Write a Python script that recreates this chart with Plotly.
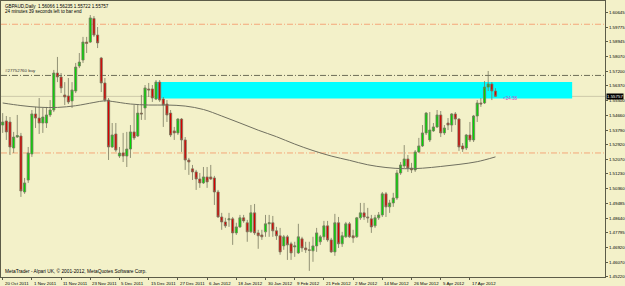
import plotly.graph_objects as go

# ---------------- data ----------------
opens = [1.5408, 1.5432, 1.5426, 1.5274, 1.5338, 1.5344, 1.5017, 1.5087, 1.5239, 1.5473,
         1.5449, 1.5420, 1.5420, 1.5467, 1.5496, 1.5712, 1.5689, 1.5584, 1.5578, 1.5549,
         1.5607, 1.5753, 1.5788, 1.5893, 1.5893, 1.6031, 1.5934, 1.5800, 1.5654, 1.5554,
         1.5280, 1.5356, 1.5227, 1.5245, 1.5227, 1.5268, 1.5368, 1.5344, 1.5478, 1.5508,
         1.5619, 1.5619, 1.5560, 1.5659, 1.5560, 1.5531, 1.5478, 1.5374, 1.5362, 1.5443,
         1.5321, 1.5204, 1.5152, 1.5134, 1.5093, 1.5070, 1.5105, 1.5105, 1.5099, 1.5017,
         1.4871, 1.4842, 1.4854, 1.4860, 1.4778, 1.4813, 1.4866, 1.4837, 1.4784, 1.4895,
         1.4778, 1.4766, 1.4784, 1.4831, 1.4837, 1.4790, 1.4761, 1.4702, 1.4755, 1.4714,
         1.4696, 1.4661, 1.4743, 1.4690, 1.4679, 1.4673, 1.4702, 1.4726, 1.4755, 1.4819,
         1.4737, 1.4667, 1.4837, 1.4714, 1.4755, 1.4831, 1.4761, 1.4755, 1.4866, 1.4895,
         1.4871, 1.4860, 1.4819, 1.4866, 1.4883, 1.5006, 1.4930, 1.4953, 1.4982, 1.5128,
         1.5169, 1.5210, 1.5157, 1.5146, 1.5251, 1.5286, 1.5362, 1.5321, 1.5374, 1.5397,
         1.5467, 1.5362, 1.5420, 1.5408, 1.5473, 1.5443, 1.5286, 1.5274, 1.5350, 1.5321,
         1.5461, 1.5537, 1.5537, 1.5630, 1.5648, 1.56066]
highs = [1.5478, 1.5461, 1.5455, 1.5368, 1.5467, 1.5362, 1.5099, 1.5280, 1.5496, 1.5514,
         1.5566, 1.5508, 1.5514, 1.5554, 1.5730, 1.5806, 1.5712, 1.5659, 1.5683, 1.5659,
         1.5771, 1.5829, 1.5923, 1.5923, 1.6051, 1.6045, 1.5981, 1.5806, 1.5683, 1.5566,
         1.5420, 1.5420, 1.5280, 1.5362, 1.5368, 1.5408, 1.5525, 1.5525, 1.5584, 1.5642,
         1.5654, 1.5642, 1.5671, 1.5671, 1.5572, 1.5554, 1.5496, 1.5397, 1.5449, 1.5449,
         1.5338, 1.5216, 1.5175, 1.5146, 1.5128, 1.5163, 1.5163, 1.5175, 1.5111, 1.5029,
         1.4895, 1.4866, 1.4895, 1.4871, 1.4837, 1.4883, 1.4883, 1.4854, 1.4941, 1.4947,
         1.4796, 1.4796, 1.4883, 1.4883, 1.4877, 1.4813, 1.4807, 1.4766, 1.4766, 1.4726,
         1.4726, 1.4831, 1.4755, 1.4726, 1.4726, 1.4755, 1.4807, 1.4766, 1.4848, 1.4848,
         1.4749, 1.4889, 1.4871, 1.4784, 1.4842, 1.4842, 1.4796, 1.4871, 1.4953, 1.4953,
         1.4924, 1.4883, 1.4883, 1.4900, 1.5017, 1.5017, 1.4971, 1.5012, 1.5146, 1.5192,
         1.5291, 1.5233, 1.5187, 1.5262, 1.5333, 1.5408, 1.5484, 1.5484, 1.5420, 1.5496,
         1.5490, 1.5408, 1.5449, 1.5478, 1.5484, 1.5449, 1.5303, 1.5356, 1.5426, 1.5467,
         1.5554, 1.5566, 1.5665, 1.5724, 1.5659, 1.56235]
lows = [1.5362, 1.5321, 1.5233, 1.5245, 1.5333, 1.4988, 1.5006, 1.5070, 1.5222, 1.5391,
        1.5356, 1.5362, 1.5391, 1.5455, 1.5484, 1.5659, 1.5595, 1.5525, 1.5531, 1.5508,
        1.5595, 1.5741, 1.5771, 1.5829, 1.5888, 1.5923, 1.5858, 1.5601, 1.5543, 1.5204,
        1.5274, 1.5251, 1.5216, 1.5192, 1.5163, 1.5216, 1.5321, 1.5338, 1.5438, 1.5438,
        1.5572, 1.5543, 1.5554, 1.5543, 1.5397, 1.5426, 1.5338, 1.5321, 1.5350, 1.5251,
        1.5146, 1.5117, 1.5087, 1.5029, 1.5041, 1.5064, 1.5041, 1.5087, 1.4941, 1.4866,
        1.4796, 1.4807, 1.4813, 1.4708, 1.4766, 1.4807, 1.4837, 1.4726, 1.4778, 1.4766,
        1.4685, 1.4737, 1.4755, 1.4755, 1.4755, 1.4737, 1.4650, 1.4679, 1.4620, 1.4620,
        1.4638, 1.4655, 1.4667, 1.4661, 1.4556, 1.4609, 1.4667, 1.4708, 1.4737, 1.4726,
        1.4661, 1.4644, 1.4690, 1.4696, 1.4749, 1.4749, 1.4720, 1.4749, 1.4854, 1.4854,
        1.4837, 1.4778, 1.4807, 1.4854, 1.4871, 1.4871, 1.4895, 1.4930, 1.4971, 1.5117,
        1.5157, 1.5134, 1.5128, 1.5134, 1.5245, 1.5280, 1.5350, 1.5309, 1.5368, 1.5391,
        1.5338, 1.5350, 1.5379, 1.5368, 1.5408, 1.5257, 1.5251, 1.5262, 1.5309, 1.5309,
        1.5426, 1.5514, 1.5531, 1.5607, 1.5554, 1.55722]
closes = [1.5426, 1.5368, 1.5280, 1.5338, 1.5347, 1.5023, 1.5070, 1.5245, 1.5473, 1.5449,
          1.5420, 1.5455, 1.5467, 1.5496, 1.5712, 1.5689, 1.5625, 1.5572, 1.5543, 1.5613,
          1.5747, 1.5776, 1.5893, 1.5885, 1.6034, 1.5934, 1.5888, 1.5654, 1.5554, 1.5280,
          1.5350, 1.5262, 1.5245, 1.5227, 1.5268, 1.5368, 1.5333, 1.5478, 1.5473, 1.5625,
          1.5613, 1.5566, 1.5659, 1.5554, 1.5525, 1.5467, 1.5350, 1.5362, 1.5443, 1.5321,
          1.5204, 1.5192, 1.5134, 1.5093, 1.5070, 1.5105, 1.5076, 1.5093, 1.5017, 1.4871,
          1.4842, 1.4819, 1.4860, 1.4778, 1.4813, 1.4866, 1.4848, 1.4784, 1.4895, 1.4778,
          1.4761, 1.4755, 1.4831, 1.4837, 1.4790, 1.4761, 1.4667, 1.4755, 1.4708, 1.4661,
          1.4702, 1.4755, 1.4690, 1.4679, 1.4676, 1.4702, 1.4778, 1.4755, 1.4819, 1.4737,
          1.4667, 1.4837, 1.4714, 1.4761, 1.4831, 1.4755, 1.4749, 1.4866, 1.4895, 1.4871,
          1.4866, 1.4813, 1.4866, 1.4883, 1.5006, 1.4930, 1.4953, 1.4982, 1.5128, 1.5175,
          1.5210, 1.5157, 1.5146, 1.5251, 1.5286, 1.5362, 1.5478, 1.5379, 1.5397, 1.5467,
          1.5362, 1.5391, 1.5408, 1.5473, 1.5443, 1.5280, 1.5268, 1.5350, 1.5321, 1.5461,
          1.5537, 1.5531, 1.5630, 1.5648, 1.5607, 1.55757]

ma_bars = [0, 5, 10, 15, 20, 25, 28, 30, 35, 40, 45, 50, 55, 60, 65, 70, 75, 80,
           85, 90, 95, 100, 105, 110, 115, 120, 125, 130, 135]
ma_vals = [1.5537, 1.5522, 1.5512, 1.5511, 1.5521, 1.5540, 1.5550, 1.5546, 1.5531,
           1.5525, 1.5525, 1.5519, 1.5499, 1.5461, 1.5420, 1.5378, 1.5340, 1.5297,
           1.5259, 1.5227, 1.5202, 1.5176, 1.5160, 1.5153, 1.5156, 1.5166, 1.5178,
           1.5194, 1.5222]

date_bars = [0, 8, 16, 24, 32, 40, 48, 56, 64, 72, 80, 88, 96, 104, 112, 120, 128]
date_labels = ["20 Oct 2011", "1 Nov 2011", "11 Nov 2011", "23 Nov 2011", "5 Dec 2011",
               "15 Dec 2011", "27 Dec 2011", "6 Jan 2012", "18 Jan 2012", "30 Jan 2012",
               "9 Feb 2012", "21 Feb 2012", "2 Mar 2012", "14 Mar 2012", "26 Mar 2012",
               "5 Apr 2012", "17 Apr 2012"]

price_ticks = [1.60645, 1.59775, 1.58945, 1.58070, 1.57200, 1.56370, 1.55500, 1.54660,
               1.53790, 1.52920, 1.52070, 1.51230, 1.50360, 1.49485, 1.48640, 1.47795,
               1.46920, 1.46070, 1.45220]
price_tick_text = ["%.5f" % v for v in price_ticks]

bid = 1.55757
level_top = 1.5997
level_order = 1.5698
level_bottom = 1.5245
zone_low, zone_high = 1.5563, 1.5660
zone_start, zone_end = 42, 156

header = "GBPAUD,Daily  1.56066 1.56235 1.55722 1.55757"
timer_text = "24 minutes 39 seconds left to bar end"
order_text = "#27752760 buy"
copyright_text = "MetaTrader - Alpari UK, \u00a9 2001-2012, MetaQuotes Software Corp."
countdown = "<24:38"

# ---------------- figure ----------------
BG = "#F3F1C9"
FONT = "Liberation Sans"
DASHDOT = "6px,2px,1px,2px"
fig = go.Figure()

fig.add_shape(type="rect", xref="x", yref="y", x0=zone_start, x1=zone_end,
              y0=zone_low, y1=zone_high, fillcolor="#00FFFF", line=dict(width=0),
              layer="below")

for lvl, col in [(level_top, "#F5A77A"), (level_bottom, "#F5A77A"), (level_order, "#6E6E58")]:
    fig.add_shape(type="line", xref="paper", yref="y", x0=0, x1=1, y0=lvl, y1=lvl,
                  line=dict(color=col, width=1, dash=DASHDOT), layer="below")
fig.add_shape(type="line", xref="paper", yref="y", x0=0, x1=1, y0=bid, y1=bid,
              line=dict(color="#CDC9A8", width=1), layer="below")

fig.add_trace(go.Scatter(x=ma_bars, y=ma_vals, mode="lines", line_shape="spline",
                         line=dict(color="#707060", width=1), hoverinfo="skip",
                         showlegend=False))

fig.add_trace(go.Candlestick(
    x=list(range(len(opens))), open=opens, high=highs, low=lows, close=closes,
    increasing=dict(line=dict(color="#787860", width=0.8), fillcolor="#00D800"),
    decreasing=dict(line=dict(color="#787860", width=0.8), fillcolor="#D80000"),
    whiskerwidth=0, showlegend=False, hoverinfo="skip"))

ann = []
ann.append(dict(xref="paper", yref="paper", x=0.004, y=1, xanchor="left", yanchor="top",
                text=header, showarrow=False, font=dict(size=4.6, color="#000", family=FONT),
                yshift=-1))
ann.append(dict(xref="paper", yref="paper", x=0.004, y=1, xanchor="left", yanchor="top",
                text=timer_text, showarrow=False, font=dict(size=4.6, color="#000", family=FONT),
                yshift=-6))
ann.append(dict(xref="paper", yref="y", x=0.004, y=level_order, xanchor="left",
                yanchor="bottom", text=order_text, showarrow=False,
                font=dict(size=4.4, color="#333", family=FONT)))
ann.append(dict(xref="paper", yref="paper", x=0.004, y=0, xanchor="left", yanchor="bottom",
                text=copyright_text, showarrow=False,
                font=dict(size=4.8, color="#000", family=FONT), yshift=1))
ann.append(dict(xref="x", yref="y", x=136.4, y=1.5561, xanchor="left", yanchor="middle",
                text=countdown, showarrow=False, font=dict(size=4.6, color="#CC44CC", family=FONT)))
ann.append(dict(xref="paper", yref="y", x=1, y=bid, xanchor="left", yanchor="middle",
                text="1.55757", showarrow=False, bgcolor="#000000", borderpad=0,
                font=dict(size=4.4, color="#FFFFFF", family=FONT), xshift=1))
for b, lab in zip(date_bars, date_labels):
    ann.append(dict(xref="x", yref="paper", x=b, y=0, xanchor="left", yanchor="top",
                    text=lab, showarrow=False, font=dict(size=4.4, color="#000", family=FONT),
                    yshift=-2))

fig.update_layout(
    width=625, height=286,
    margin=dict(l=0, r=17, t=1, b=9),
    paper_bgcolor=BG, plot_bgcolor=BG,
    showlegend=False, boxgap=0.15,
    annotations=ann,
    xaxis=dict(range=[-0.46, 165.0], rangeslider=dict(visible=False),
               showgrid=False, zeroline=False, showline=True, linecolor="#5C5C48",
               linewidth=1, mirror=True, tickmode="array", tickvals=date_bars,
               ticks="outside", ticklen=2, tickcolor="#5C5C48", showticklabels=False),
    yaxis=dict(range=[1.45202, 1.61329], side="right", showgrid=False, zeroline=False,
               showline=True, linecolor="#5C5C48", linewidth=1, mirror=True,
               tickmode="array", tickvals=price_ticks, ticktext=price_tick_text,
               ticks="outside", ticklen=2, tickcolor="#5C5C48",
               tickfont=dict(size=4.4, color="#000", family=FONT)),
)

fig.write_html("out.html")
